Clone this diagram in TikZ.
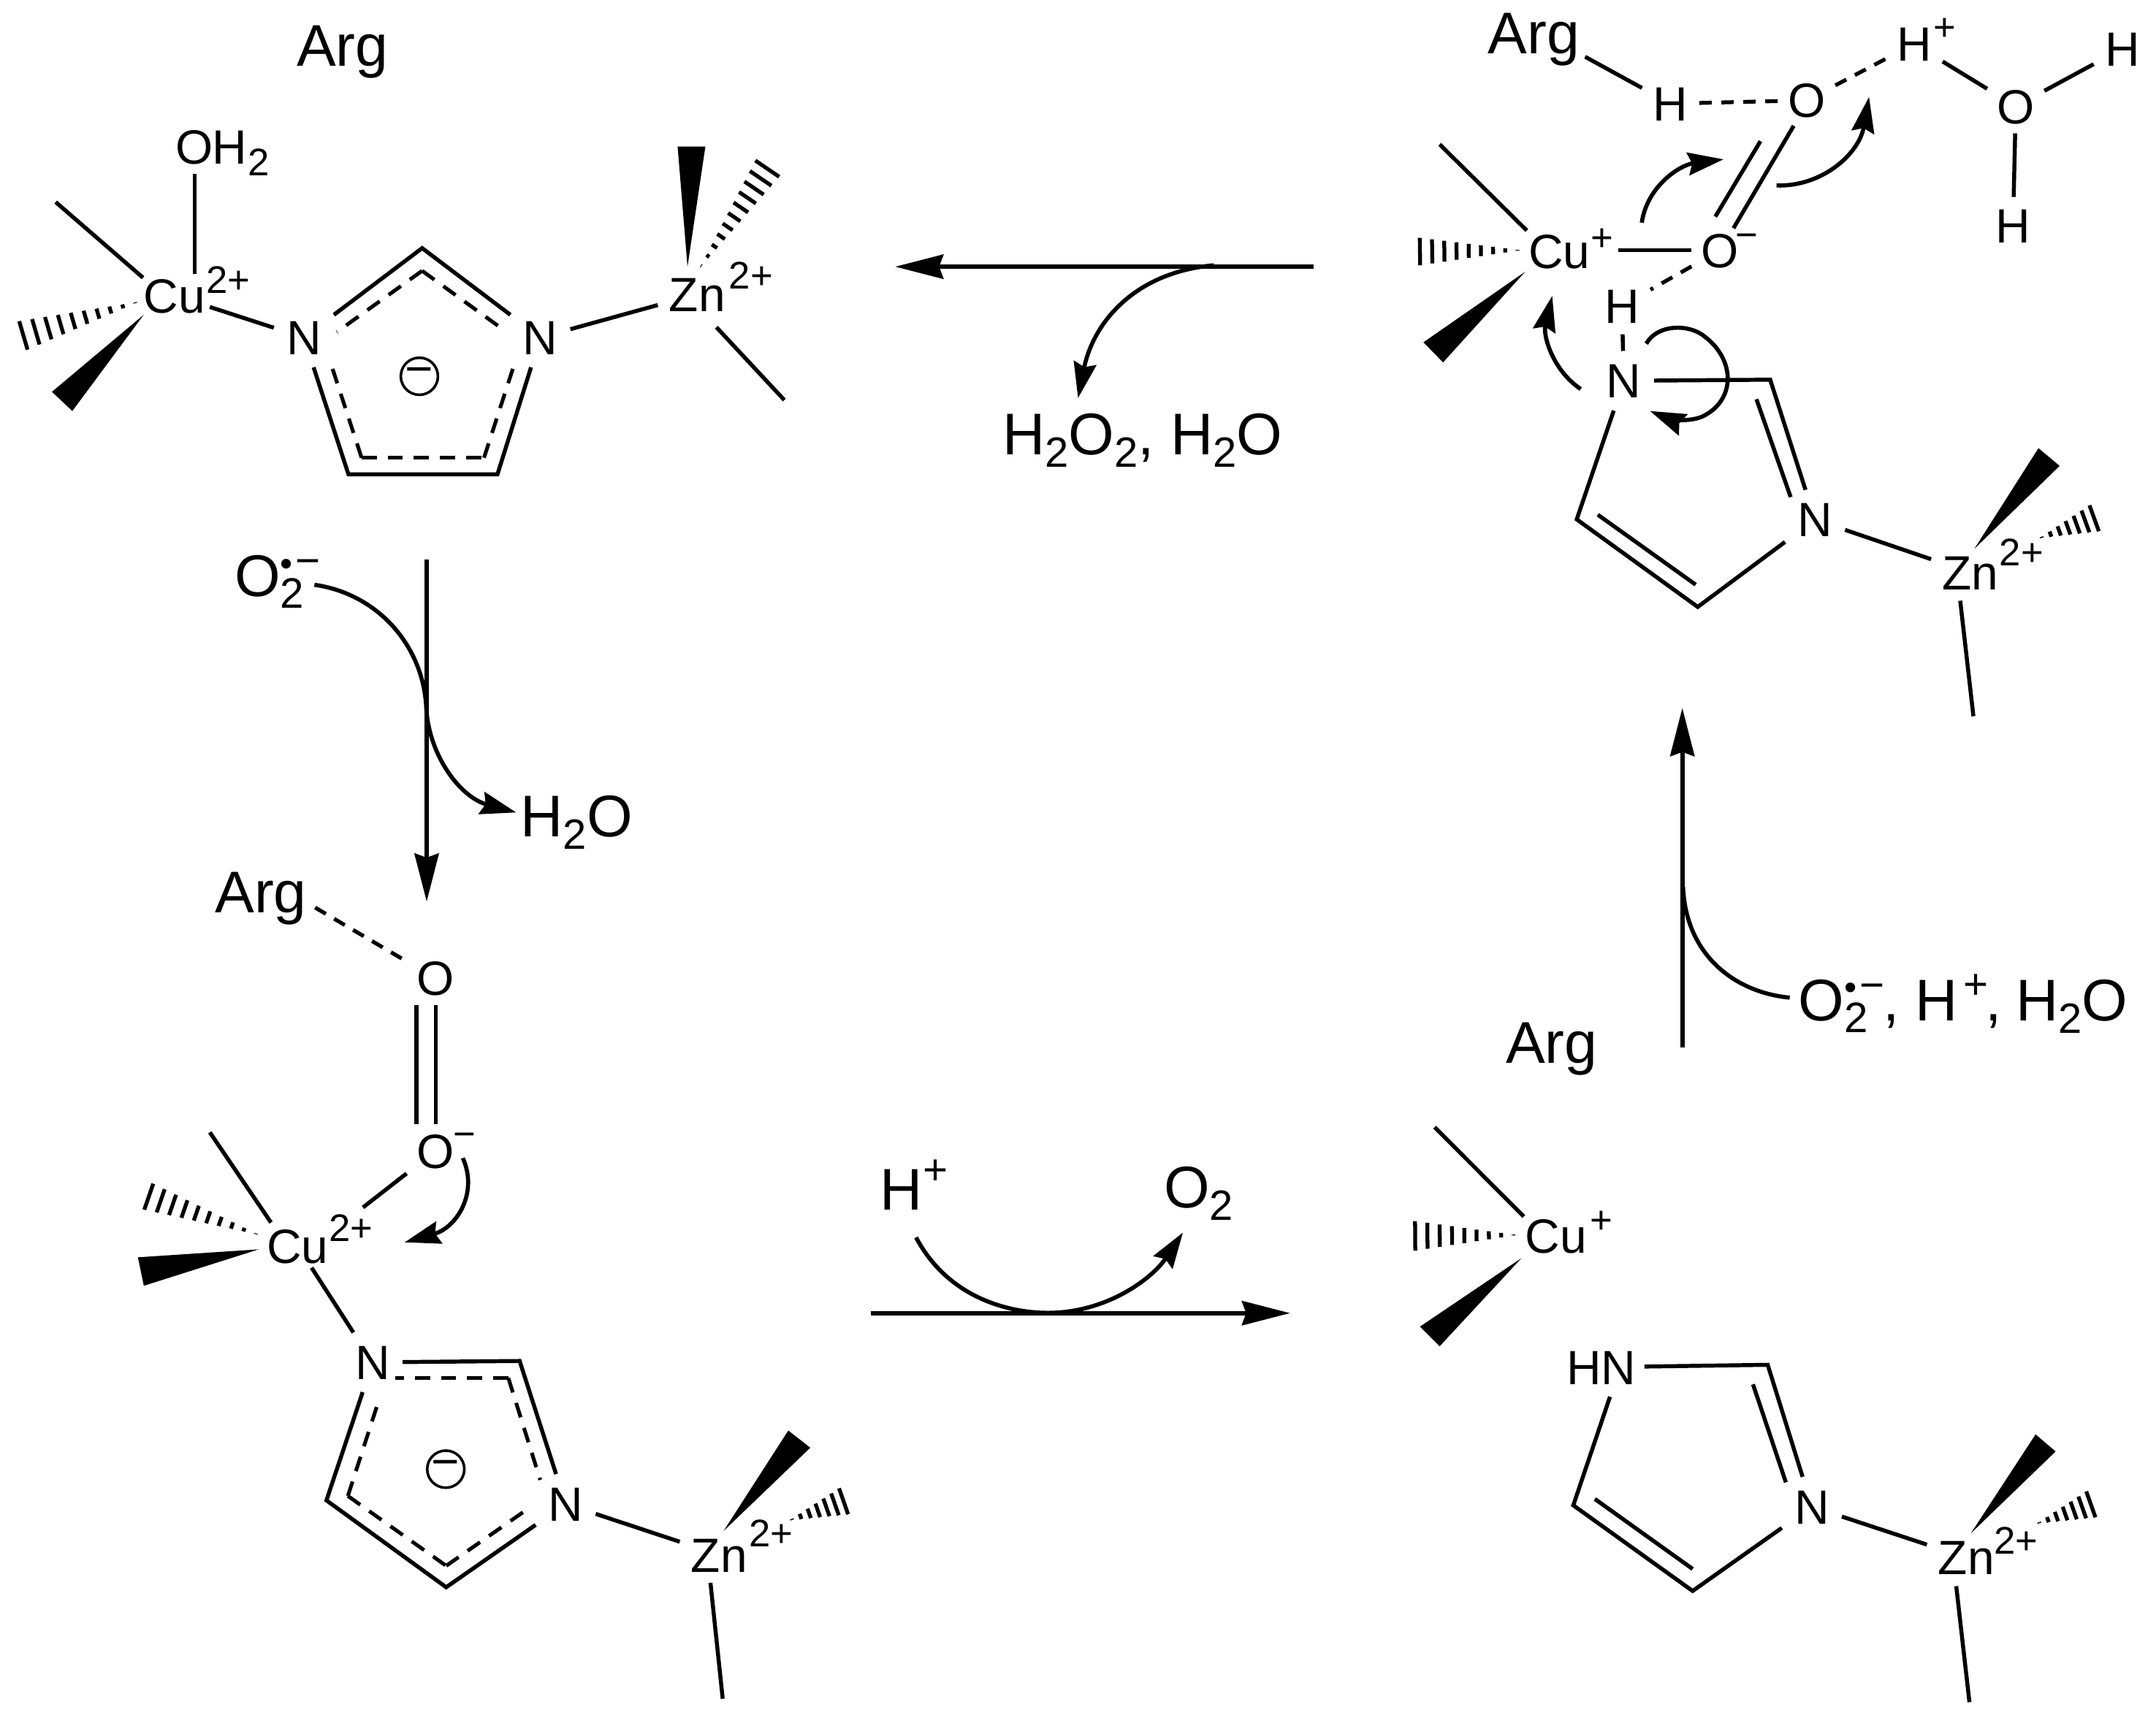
\documentclass[tikz,border=0pt]{standalone}
\usepackage{fontspec}
\setmainfont{Liberation Sans}
\usetikzlibrary{calc,arrows.meta}
\newcommand\atomfont{\fontsize{35}{35}\selectfont}
\newcommand\supfont{\fontsize{28}{28}\selectfont}
\newcommand\labfont{\fontsize{42.8}{43}\selectfont}
\newcommand\midfont{\fontsize{31}{31}\selectfont}
\newcommand\smallfont{\fontsize{26}{26}\selectfont}
\newcommand\dnn[1]{\raisebox{-.215em}{\scalebox{.72}{#1}}}
% O2 radical anion, stacked sub- and superscripts inside one text
\newcommand\superox{O\rlap{\raisebox{-8.6pt}{\midfont 2}}\raisebox{15pt}{\smallfont •}\kern2pt\raisebox{15.5pt}{\midfont −}}
\tikzset{
 atom/.style={font=\atomfont,inner sep=9pt,text height=25pt,text depth=0pt},
 oxy/.style={atom,inner sep=7pt},
 hyd/.style={atom,inner sep=8pt},
 metal/.style={atom,inner sep=3pt},
 zinc/.style={atom,inner sep=8pt},
 sups/.style={font=\supfont,inner sep=0pt,anchor=base west},
 mids/.style={font=\midfont,inner sep=0pt,anchor=base west},
 lab/.style={font=\labfont,inner sep=0pt,anchor=base west},
 bond/.style={line width=2.9pt},
 hbond/.style={line width=2.8pt,dash pattern=on 9pt off 7pt},
 dring/.style={line width=2.7pt,dash pattern=on 11pt off 8pt},
 hashl/.style={line width=2.8pt},
 rxn/.style={line width=3.3pt,-{Stealth[length=35pt,width=17.5pt,inset=3pt]}},
 rxnplain/.style={line width=3pt},
 curv/.style={line width=3pt,-{Stealth[length=26pt,width=16.5pt,inset=3pt]}},
 charge/.style={draw,circle,line width=1.9pt,minimum size=27pt,inner sep=0pt,font=\fontsize{35}{35}\selectfont},
}
% hashed wedge: apex, centre of wide end, half width, number of strokes
\newcommand\hashw[4]{%
 \coordinate (hwa) at ($(#2)!#3pt!90:(#1)$);
 \coordinate (hwb) at ($(#2)!#3pt!-90:(#1)$);
 \foreach \hwi in {0,...,#4}{%
  \pgfmathsetmacro\hwt{(\hwi+0.25)/(#4+0.25)}%
  \draw[hashl] ($(#1)!\hwt!(hwa)$) -- ($(#1)!\hwt!(hwb)$);
 }}
\begin{document}
\begin{tikzpicture}[x=1pt,y=-1pt]
\useasboundingbox (0,0) rectangle (1568,1249.2);
\fill[white] (0,0) rectangle (1568,1249.2);

%% ---------- top left ----------
\node[lab] (argA) at (215.6,48.3) {Arg};
\node[oxy] (oA) at (141.5,107) {O};
\node[sups,font=\atomfont] (hA) at (154,119.5) {H};
\node[sups] (hAs) at (180,128) {2};
\node[metal] (cuA) at (127,215) {Cu};
\node[sups] (cuAs) at (150,213.5) {2+};
\node[atom] (nA1) at (221,245.5) {N};
\node[atom] (nA2) at (393,245.5) {N};
\node[zinc] (znA) at (507,214) {Zn};
\node[sups] (znAs) at (530,210) {2+};
\node[charge] (chA) at (305,273.7) {−};
\coordinate (cA1) at (307,180.5);
\coordinate (cA2) at (253.4,345);
\coordinate (cA3) at (361.8,345);
\draw[bond] (nA1) -- (cA1) -- (nA2);
\draw[bond] (nA1) -- (cA2) -- (cA3) -- (nA2);
\coordinate (dA1) at (245,241.5);
\coordinate (dA2) at (307,197);
\coordinate (dA3) at (368.4,241.5);
\coordinate (dA4) at (239.8,262);
\coordinate (dA5) at (263,333);
\coordinate (dA6) at (352,333);
\coordinate (dA7) at (375,262);
\draw[dring] (dA2) -- (dA1);
\draw[dring] (dA2) -- (dA3);
\draw[dring] (dA5) -- (dA4);
\draw[dring] (dA6) -- (dA7);
\draw[dring] (dA5) -- (dA6);
\draw[bond] (oA.south) -- (oA.south |- cuA.north);
\draw[bond] (cuA) -- (nA1);
\draw[bond] (nA2) -- (znA);
\coordinate (mA1a) at (40.5,147);
\coordinate (mA1b) at (104,202);
\draw[bond] (mA1a) -- (mA1b);
\coordinate (hA1a) at (100.6,219.6);
\coordinate (hA1b) at (17,244);
\hashw{hA1a}{hA1b}{10.8}{9}
\coordinate (wA1t) at (104.5,229);
\coordinate (wA1a) at (37.8,285);
\coordinate (wA1b) at (52.6,299);
\fill (wA1t) -- (wA1a) -- (wA1b) -- cycle;
\coordinate (wA2t) at (500,194);
\coordinate (wA2a) at (492.8,106.6);
\coordinate (wA2b) at (513,106.6);
\fill (wA2t) -- (wA2a) -- (wA2b) -- cycle;
\coordinate (hA2a) at (508.8,195);
\coordinate (hA2b) at (558,122.7);
\hashw{hA2a}{hA2b}{10.5}{10}
\coordinate (mA2a) at (521,238);
\coordinate (mA2b) at (570.4,291);
\draw[bond] (mA2a) -- (mA2b);

%% ---------- top right ----------
\node[lab] (argB) at (1081.9,39) {Arg};
\node[hyd] (hB1) at (1215,75.4) {H};
\node[oxy] (oB1) at (1314,73) {O};
\node[hyd] (hB2) at (1392,32) {H};
\node[sups] (hB2s) at (1406,29.6) {+};
\node[oxy] (oB2) at (1466,77.3) {O};
\node[hyd] (hB3) at (1543.5,35.4) {H};
\node[hyd] (hB4) at (1464,164) {H};
\node[metal] (cuB) at (1134,183) {Cu};
\node[sups] (cuBs) at (1157,182.6) {+};
\node[oxy] (oB3) at (1251,182) {O};
\node[sups] (oB3s) at (1262,180.6) {−};
\node[hyd] (hB5) at (1179.5,222.5) {H};
\node[atom] (nB1) at (1181,277) {N};
\node[atom] (nB2) at (1320,378) {N};
\node[zinc] (znB) at (1433,416.5) {Zn};
\node[sups] (znBs) at (1454,411.7) {2+};
\coordinate (aB) at (1152.8,41.3);
\draw[bond] (aB) -- (hB1);
\draw[hbond] (hB1) -- (oB1);
\draw[hbond] (oB1) -- (hB2);
\draw[bond] (hB2) -- (oB2);
\draw[bond] (oB2) -- (hB3);
\draw[bond] (oB2) -- (hB4);
\coordinate (cuBe) at (1177,182);
\draw[bond] (cuBe) -- (oB3);
\coordinate (dbB1) at (1304.5,91.5);
\coordinate (dbB2) at (1260.7,166);
\coordinate (dbB3) at (1280.3,102.7);
\coordinate (dbB4) at (1247.5,157.6);
\draw[bond] (dbB1) -- (dbB2);
\draw[bond] (dbB3) -- (dbB4);
\draw[hbond] (oB3) -- (hB5);
\draw[bond] (hB5) -- (nB1);
\coordinate (cB1) at (1287.4,276.2);
\coordinate (cB2) at (1234.7,441.5);
\coordinate (cB3) at (1146.7,377.8);
\draw[bond] (nB1) -- (cB1) -- (nB2) -- (cB2) -- (cB3) -- (nB1);
\coordinate (iB1) at (1277.4,290.4);
\coordinate (iB2) at (1302.3,361.6);
\coordinate (iB3) at (1233.2,425.3);
\coordinate (iB4) at (1162,374.4);
\draw[bond] (iB1) -- (iB2);
\draw[bond] (iB3) -- (iB4);
\draw[bond] (nB2) -- (znB);
\coordinate (mB1a) at (1047,105);
\coordinate (mB1b) at (1110.4,167.7);
\draw[bond] (mB1a) -- (mB1b);
\coordinate (hB1a) at (1105.8,182);
\coordinate (hB1b) at (1032.7,183);
\hashw{hB1a}{hB1b}{10}{8}
\coordinate (wB1t) at (1109.3,197.6);
\coordinate (wB1a) at (1035.2,249);
\coordinate (wB1b) at (1049.5,263.6);
\fill (wB1t) -- (wB1a) -- (wB1b) -- cycle;
\coordinate (wB2t) at (1435.9,399.2);
\coordinate (wB2a) at (1482.5,326);
\coordinate (wB2b) at (1497.9,338.9);
\fill (wB2t) -- (wB2a) -- (wB2b) -- cycle;
\coordinate (hB2a) at (1483.3,391.4);
\coordinate (hB2b) at (1523,377);
\hashw{hB2a}{hB2b}{10}{6}
\coordinate (mB2a) at (1425.6,437);
\coordinate (mB2b) at (1435.2,521);
\draw[bond] (mB2a) -- (mB2b);
% electron arrows
\coordinate (eA0) at (1194,162);
\coordinate (eA1) at (1253.5,115.9);
\draw[curv] (eA0) .. controls (1198,135) and (1222,120) .. (eA1);
\coordinate (eB0) at (1292,134.9);
\coordinate (eB1) at (1359.3,70.5);
\draw[curv] (eB0) .. controls (1325,136) and (1352,112) .. (eB1);
\coordinate (eC0) at (1149.6,283);
\coordinate (eC1) at (1128.9,215.2);
\draw[curv] (eC0) .. controls (1130,270) and (1122,245) .. (eC1);
\coordinate (eD0) at (1197.3,250);
\coordinate (eD1) at (1200,299);
\draw[curv] (eD0) .. controls (1205,236) and (1228,235) .. (1240,245)
  .. controls (1262,262) and (1262,290) .. (1240,302)
  .. controls (1230,308) and (1212,304) .. (eD1);

%% ---------- bottom left ----------
\node[lab] (argC) at (156.2,664.1) {Arg};
\node[oxy] (oC1) at (316.7,711.7) {O};
\node[oxy] (oC2) at (316.5,837.4) {O};
\node[sups] (oC2s) at (329.5,834.3) {−};
\node[metal] (cuC) at (216.5,906.5) {Cu};
\node[sups] (cuCs) at (239,903) {2+};
\node[atom] (nC1) at (271,991) {N};
\node[atom] (nC2) at (411.4,1094) {N};
\node[zinc] (znC) at (523,1131) {Zn};
\node[sups] (znCs) at (544.5,1125.3) {2+};
\node[charge] (chC) at (324.2,1068.7) {−};
\coordinate (aC) at (229.2,660.2);
\draw[hbond] (aC) -- (oC1);
\coordinate (dbC1) at (302.8,731.2);
\coordinate (dbC2) at (302.8,817.9);
\coordinate (dbC3) at (317,731.2);
\coordinate (dbC4) at (317,817.9);
\draw[bond] (dbC1) -- (dbC2);
\draw[bond] (dbC3) -- (dbC4);
\coordinate (cuCe) at (264,878.3);
\draw[bond] (oC2) -- (cuCe);
\draw[bond] (cuC) -- (nC1);
\coordinate (cC1) at (377.9,990);
\coordinate (cC2) at (324.5,1154.6);
\coordinate (cC3) at (237.4,1091.4);
\draw[bond] (nC1) -- (cC1) -- (nC2) -- (cC2) -- (cC3) -- (nC1);
\coordinate (dC1) at (287.2,1002.4);
\coordinate (dC2) at (369.7,1002.4);
\coordinate (dC3) at (392.9,1076.5);
\coordinate (dC4) at (385,1096.8);
\coordinate (dC5) at (324.5,1139);
\coordinate (dC6) at (253,1088.2);
\coordinate (dC7) at (276.1,1016.8);
\draw[dring] (dC2) -- (dC1);
\draw[dring] (dC2) -- (dC3);
\draw[dring] (dC5) -- (dC4);
\draw[dring] (dC6) -- (dC5);
\draw[dring] (dC6) -- (dC7);
\draw[bond] (nC2) -- (znC);
\coordinate (mC1a) at (152.6,823.7);
\coordinate (mC1b) at (197.1,889.3);
\draw[bond] (mC1a) -- (mC1b);
\coordinate (hC1a) at (188.2,898.2);
\coordinate (hC1b) at (108.2,870.5);
\hashw{hC1a}{hC1b}{10}{9}
\coordinate (wC1t) at (188.2,908.8);
\coordinate (wC1a) at (100.3,914.6);
\coordinate (wC1b) at (104.6,935.3);
\fill (wC1t) -- (wC1a) -- (wC1b) -- cycle;
\coordinate (wC2t) at (526.3,1113.6);
\coordinate (wC2a) at (573.3,1040.6);
\coordinate (wC2b) at (589.3,1053.1);
\fill (wC2t) -- (wC2a) -- (wC2b) -- cycle;
\coordinate (hC2a) at (574.4,1105.8);
\coordinate (hC2b) at (613.5,1092.1);
\hashw{hC2a}{hC2b}{10}{6}
\coordinate (mC2a) at (516.7,1151.4);
\coordinate (mC2b) at (525.6,1235.7);
\draw[bond] (mC2a) -- (mC2b);
\coordinate (eE0) at (336.6,842.4);
\coordinate (eE1) at (294.3,903.7);
\draw[curv] (eE0) .. controls (348,868) and (332,893) .. (eE1);

%% ---------- bottom right ----------
\node[lab] (argD) at (1095,773.4) {Arg};
\node[metal] (cuD) at (1131.6,899) {Cu};
\node[sups] (cuDs) at (1156,897) {+};
\node[atom,inner sep=6pt] (nD1) at (1164.5,994.5) {HN};
\node[atom] (nD2) at (1317.7,1096) {N};
\node[zinc] (znD) at (1430,1133) {Zn};
\node[sups] (znDs) at (1450,1130.6) {2+};
\coordinate (cD1) at (1285.6,992.8);
\coordinate (cD2) at (1231,1157.3);
\coordinate (cD3) at (1144.2,1095);
\coordinate (cD4) at (1170.9,1016);
\draw[bond] (nD1) -- (cD1) -- (nD2) -- (cD2) -- (cD3) -- (cD4);
\coordinate (iD1) at (1274.9,1007);
\coordinate (iD2) at (1298.8,1078.3);
\coordinate (iD3) at (1231,1141.3);
\coordinate (iD4) at (1159.9,1090.4);
\draw[bond] (iD1) -- (iD2);
\draw[bond] (iD3) -- (iD4);
\draw[bond] (nD2) -- (znD);
\coordinate (mD1a) at (1043.4,820);
\coordinate (mD1b) at (1108.2,884.9);
\draw[bond] (mD1a) -- (mD1b);
\coordinate (hD1a) at (1102.9,898.4);
\coordinate (hD1b) at (1029.2,899);
\hashw{hD1a}{hD1b}{10.7}{8}
\coordinate (wD1t) at (1106.5,915.2);
\coordinate (wD1a) at (1032.7,965);
\coordinate (wD1b) at (1047,979.3);
\fill (wD1t) -- (wD1a) -- (wD1b) -- cycle;
\coordinate (wD2t) at (1433.4,1115.3);
\coordinate (wD2a) at (1480.4,1043.4);
\coordinate (wD2b) at (1495,1055.8);
\fill (wD2t) -- (wD2a) -- (wD2b) -- cycle;
\coordinate (hD2a) at (1481.5,1108.2);
\coordinate (hD2b) at (1520.6,1094.3);
\hashw{hD2a}{hD2b}{10}{6}
\coordinate (mD2a) at (1422.7,1153.8);
\coordinate (mD2b) at (1432.3,1238.2);
\draw[bond] (mD2a) -- (mD2b);

%% ---------- reaction arrows ----------
% top: right to left
\coordinate (rT0) at (955.3,194);
\coordinate (rT1) at (651,194);
\draw[rxn] (rT0) -- (rT1);
\coordinate (rT2) at (882.7,193);
\coordinate (rT3) at (784,289.6);
\draw[curv] (rT2) .. controls (825,198) and (795,235) .. (rT3);
\node[lab] (lT) at (729,330.8) {H\dnn{2}O\dnn{2}, H\dnn{2}O};
% left: downward
\coordinate (rL0) at (310.3,407);
\coordinate (rL1) at (310.3,655.9);
\draw[rxn] (rL0) -- (rL1);
\node[lab] (lL1) at (170.4,434) {\superox};
\coordinate (rL2) at (228.7,425.4);
\coordinate (rL3) at (375.4,591);
\draw[curv] (rL2) .. controls (275,432) and (308,470) .. (310,515)
  .. controls (312,550) and (335,580) .. (rL3);
\node[lab] (lL5) at (378.5,608.7) {H\dnn{2}O};
% bottom: left to right
\coordinate (rB0) at (633.6,955.2);
\coordinate (rB1) at (938.3,955.2);
\draw[rxn] (rB0) -- (rB1);
\node[lab] (lB1) at (639.7,879.9) {H\kern0.7pt\raisebox{18.4pt}{\midfont +}};
\node[lab] (lB3) at (846.3,878.5) {O\dnn{2}};
\coordinate (rB2) at (666.2,900.1);
\coordinate (rB3) at (860.3,896.6);
\draw[curv] (rB2) .. controls (690,945) and (735,955) .. (762,955)
  .. controls (805,955) and (838,930) .. (rB3);
% right: upward
\coordinate (rR0) at (1223.5,762);
\coordinate (rR1) at (1223.5,515);
\draw[rxn] (rR0) -- (rR1);
\coordinate (rR2) at (1224,645);
\coordinate (rR3) at (1301.6,725.7);
\draw[rxnplain] (rR2) .. controls (1226,695) and (1262,722) .. (rR3);
\node[lab] (lR1) at (1307.8,742.4) {\superox\kern-1pt,\kern11.8pt H\kern3.9pt\raisebox{15.6pt}{\midfont +}\kern-2.1pt,\kern10.3pt H\dnn{2}O};
\end{tikzpicture}
\end{document}
